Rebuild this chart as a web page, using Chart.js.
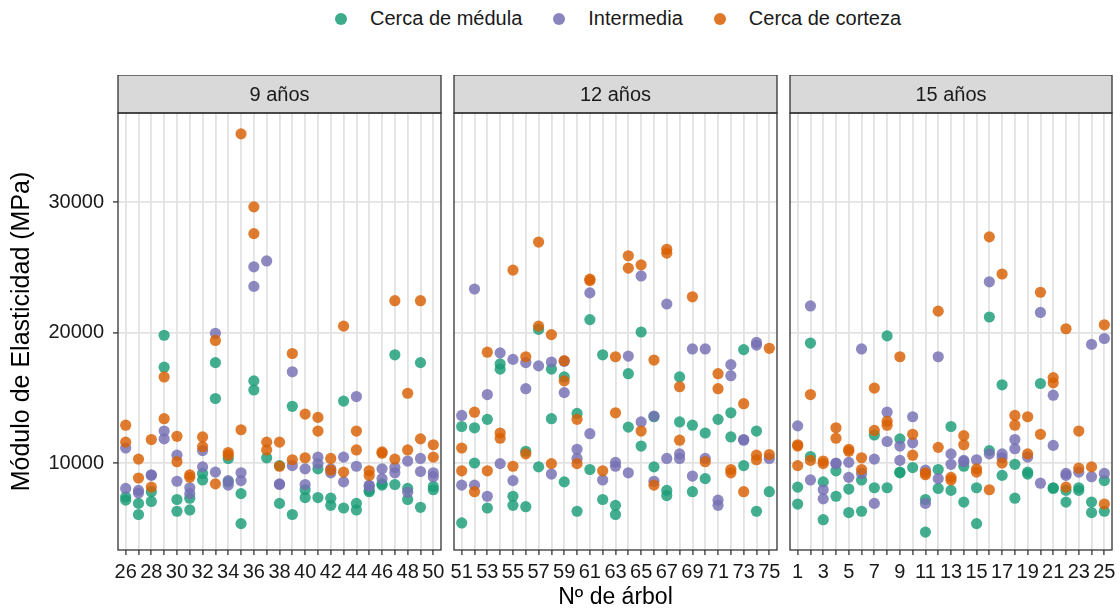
<!DOCTYPE html>
<html>
<head>
<meta charset="utf-8">
<script src="https://cdn.jsdelivr.net/npm/chart.js@4.4.1/dist/chart.umd.min.js"></script>
<style>
  body { margin: 0; background: #fff; font-family: "Liberation Sans", Arial, sans-serif; }
  #wrap { position: relative; width: 1120px; height: 612px; overflow: hidden; }
  #wrap canvas { position: absolute; top: 75px; }
  .legend { position: absolute; top: 7px; left: 335px; display: flex; align-items: center; font-size: 20px; color: #1a1a1a; }
  .legend .item { display: flex; align-items: center; margin-right: 31px; }
  .legend .dot { width: 12px; height: 12px; border-radius: 50%; display: inline-block; margin-right: 23px; }
</style>
</head>
<body>
<div id="wrap">
  <div class="legend">
    <div class="item"><span class="dot" style="background:rgba(27,158,119,0.85)"></span>Cerca de médula</div>
    <div class="item"><span class="dot" style="background:rgba(117,112,179,0.85)"></span>Intermedia</div>
    <div class="item"><span class="dot" style="background:rgba(217,95,2,0.85)"></span>Cerca de corteza</div>
  </div>
  <canvas id="c9" width="449" height="537" style="left:0px"></canvas>
  <canvas id="c12" width="339" height="537" style="left:446px"></canvas>
  <canvas id="c15" width="338" height="537" style="left:782px"></canvas>
</div>
<script>
// árboles de cada panel
const trees9 = [26,27,28,29,30,31,32,33,34,35,36,37,38,39,40,41,42,43,44,45,46,47,48,49,50];
const trees12 = [51,52,53,54,55,56,57,58,59,60,61,62,63,64,65,66,67,68,69,70,71,72,73,74,75];
const trees15 = [1,2,3,4,5,6,7,8,9,10,11,12,13,14,15,16,17,18,19,20,21,22,23,24,25];
const yTicks = [10000, 20000, 30000];

// [árbol, MOE] - 9 años
const medula9 = [[26,7400],[26,7150],[27,6900],[27,6050],[28,7800],[28,7050],[29,19800],[29,17350],[30,7200],[30,6300],
  [31,7300],[31,6400],[32,9200],[32,8700],[33,17700],[33,14950],[34,10350],[34,8550],[35,7650],[35,5350],
  [36,16300],[36,15600],[37,10400],[38,9800],[38,6900],[39,14350],[39,6050],[40,7950],[40,7350],[41,9550],[41,7350],
  [42,7300],[42,6750],[43,14750],[43,6550],[44,6900],[44,6400],[45,7900],[45,7800],[46,8400],[46,8300],
  [47,18300],[47,8350],[48,8050],[48,7200],[49,17700],[49,6600],[50,8200],[50,7950]];
const intermedia9 = [[26,11150],[26,8050],[27,7900],[27,7700],[28,9100],[28,9050],[29,12450],[29,11850],[30,10600],[30,8600],
  [31,8100],[31,7650],[32,10950],[32,9700],[33,19950],[33,9300],[34,8650],[34,8300],[35,9250],[35,8650],
  [36,25050],[36,23550],[37,25500],[38,8400],[38,8350],[39,17000],[39,9800],[40,9550],[40,8350],[41,10450],[41,9950],
  [42,9550],[42,9250],[43,10450],[43,8550],[44,15100],[44,9750],[45,8300],[45,8200],[46,9550],[46,8800],
  [47,9650],[47,9250],[48,10150],[48,7750],[49,10350],[49,9350],[50,9250],[50,8950]];
const corteza9 = [[26,12900],[26,11600],[27,10300],[27,8850],[28,11800],[28,8150],[29,16600],[29,13400],[30,12050],[30,10100],
  [31,9100],[31,8900],[32,12000],[32,11250],[33,19400],[33,8400],[34,10800],[34,10600],[35,35250],[35,12550],
  [36,29650],[36,27600],[37,11600],[37,11000],[38,11600],[38,9750],[39,18400],[39,10250],[40,13750],[40,10400],
  [41,13500],[41,12450],[42,10350],[42,9450],[43,20500],[43,9300],[44,12450],[44,11000],[45,9400],[45,9050],
  [46,10850],[46,10750],[47,22450],[47,10300],[48,15350],[48,11000],[49,22450],[49,11850],[50,11400],[50,10450]];

// 12 años
const medula12 = [[51,12800],[51,5400],[52,12700],[52,10000],[53,13350],[53,6550],[54,17600],[54,17200],[55,7450],[55,6750],
  [56,10900],[56,6650],[57,20250],[57,9700],[58,17200],[58,13400],[59,16600],[59,8550],[60,13800],[60,6300],
  [61,21000],[61,9500],[62,18300],[62,7200],[63,6750],[63,6050],[64,16850],[64,12750],[65,20050],[65,11300],
  [66,13550],[66,9700],[67,7900],[67,7500],[68,16600],[68,13150],[69,12900],[69,7800],[70,12300],[70,8800],
  [71,13350],[72,13850],[72,12000],[73,18700],[73,9800],[74,12450],[74,6300],[75,7800]];
const intermedia12 = [[51,13650],[51,8300],[52,23350],[52,8300],[53,15250],[53,7450],[54,18450],[54,9950],[55,17950],[55,8650],
  [56,17700],[56,15700],[57,17450],[58,17750],[58,9150],[59,17800],[59,15400],[60,11050],[60,10350],
  [61,23050],[61,12250],[62,8700],[63,10050],[63,9750],[64,18200],[64,9250],[65,24350],[65,13150],
  [66,13600],[66,8600],[67,22200],[67,10350],[68,10700],[68,10350],[69,18750],[69,9000],[70,18750],[70,10350],
  [71,7150],[71,6750],[72,17550],[72,16700],[73,11800],[73,11750],[74,19250],[74,19050],[75,10350]];
const corteza12 = [[51,11150],[51,9400],[52,13900],[52,7800],[53,18500],[53,9400],[54,12300],[54,11900],[55,24800],[55,9750],
  [56,18150],[56,10700],[57,26950],[57,20500],[58,19850],[58,9950],[59,17850],[59,16300],[60,13350],[60,9950],
  [61,24100],[61,24000],[62,9400],[63,18150],[63,13850],[64,25900],[64,24950],[65,25200],[65,12450],
  [66,17900],[66,8300],[67,26400],[67,26100],[68,15850],[68,11750],[69,22750],[70,10100],
  [71,16850],[71,15700],[72,9500],[72,9250],[73,14550],[73,7800],[74,10600],[74,10250],[75,18800],[75,10650]];

// 15 años
const medula15 = [[1,8150],[1,6850],[2,19200],[2,10500],[3,8550],[3,5650],[4,9400],[4,7450],[5,8000],[5,6200],
  [6,8700],[6,6300],[7,12150],[7,8100],[8,19750],[8,8100],[9,11850],[9,9300],[9,9250],[10,9650],
  [11,7200],[11,4700],[12,9500],[12,8050],[13,12800],[13,7900],[14,9750],[14,7000],[15,8100],[15,5350],
  [16,21200],[16,10950],[17,16000],[17,9050],[18,9900],[18,7300],[19,9300],[19,9150],[20,16100],
  [21,8100],[21,8050],[22,7900],[22,7000],[23,8100],[23,7900],[24,7000],[24,6200],[25,8650],[25,6300]];
const intermedia15 = [[1,12850],[2,22050],[2,8700],[3,7950],[3,7250],[4,10000],[4,9950],[5,10050],[5,8900],
  [6,18750],[6,9200],[7,10300],[7,6900],[8,13900],[8,11650],[9,11300],[9,10200],[10,13550],[10,11550],
  [11,9450],[11,6900],[12,18150],[12,8800],[13,10700],[13,9900],[14,10200],[14,10100],[15,10250],
  [16,23900],[16,10700],[17,10700],[17,10400],[18,11800],[18,11100],[19,10450],[20,21550],[20,8450],
  [21,15200],[21,11350],[22,9200],[22,9050],[23,9300],[24,19100],[24,8950],[25,19550],[25,9200]];
const corteza15 = [[1,11400],[1,11300],[1,9800],[2,15250],[2,10200],[3,10150],[3,9950],[4,12700],[4,11900],[5,11050],[5,10900],
  [6,10400],[6,9500],[7,15750],[7,12500],[8,13200],[8,12900],[9,18150],[10,12200],[10,10600],
  [11,9250],[11,9100],[12,21650],[12,11200],[13,8900],[13,8700],[14,12100],[14,11400],[15,9550],[15,9300],
  [16,27350],[16,7950],[17,24500],[17,10000],[18,13650],[18,12900],[19,13550],[19,10700],[20,23100],[20,12200],
  [21,16550],[21,16150],[22,20300],[22,8150],[23,12450],[23,9600],[24,9700],[25,20600],[25,6850]];

const FONT = '"Liberation Sans", Arial, sans-serif';

const stripPlugin = {
  id: 'strip',
  afterDraw(chart, args, opts) {
    const { ctx, chartArea: a } = chart;
    ctx.save();
    ctx.fillStyle = '#d9d9d9';
    ctx.fillRect(a.left, a.top - 38, a.right - a.left, 38);
    ctx.strokeStyle = '#333333';
    ctx.lineWidth = 1.3;
    ctx.strokeRect(a.left, a.top - 38, a.right - a.left, 38);
    ctx.strokeRect(a.left, a.top, a.right - a.left, a.bottom - a.top);
    ctx.fillStyle = '#1a1a1a';
    ctx.font = '20px ' + FONT;
    ctx.textAlign = 'center';
    ctx.textBaseline = 'middle';
    ctx.fillText(opts.text, (a.left + a.right) / 2, a.top - 18);
    ctx.restore();
  }
};

const toPts = (arr) => arr.map(([t, v]) => ({ x: t, y: v }));

function panel(id, title, trees, medula, intermedia, corteza, pos) {
  const first = pos === 'first';
  new Chart(document.getElementById(id), {
    type: 'scatter',
    data: {
      datasets: [
        { label: 'Cerca de médula', data: toPts(medula), backgroundColor: 'rgba(27,158,119,0.82)', order: 3 },
        { label: 'Intermedia', data: toPts(intermedia), backgroundColor: 'rgba(117,112,179,0.82)', order: 2 },
        { label: 'Cerca de corteza', data: toPts(corteza), backgroundColor: 'rgba(217,95,2,0.82)', order: 1 }
      ]
    },
    options: {
      responsive: false,
      animation: false,
      devicePixelRatio: 1,
      elements: { point: { radius: 5.6, borderWidth: 0, hoverRadius: 5.6 } },
      layout: { padding: { top: 38, left: first ? 0 : 8, right: 8, bottom: 0 } },
      plugins: {
        legend: { display: false },
        tooltip: { enabled: false },
        strip: { text: title }
      },
      scales: {
        x: {
          type: 'linear',
          min: trees[0] - 0.6,
          max: trees[trees.length - 1] + 0.6,
          afterBuildTicks: (s) => { s.ticks = trees.map(v => ({ value: v })); },
          afterFit: (s) => { s.height = 62; s.paddingLeft = 0; s.paddingRight = 0; },
          border: { display: false },
          grid: { color: '#e3e3e3', lineWidth: 1.8, tickColor: '#333333', tickLength: 5, tickWidth: 1.3 },
          ticks: {
            autoSkip: false, maxRotation: 0, padding: 5,
            color: '#1a1a1a', font: { family: FONT, size: 20 },
            callback: (v) => ((v - trees[0]) % 2 === 0 ? String(v) : '')
          },
          title: {
            display: pos === 'middle',
            text: 'Nº de árbol',
            color: '#000', font: { family: FONT, size: 23 },
            padding: { top: 0, bottom: 1 }
          }
        },
        y: {
          min: 3326,
          max: 36851,
          afterBuildTicks: (s) => { s.ticks = yTicks.map(v => ({ value: v })); },
          afterFit: (s) => { s.width = first ? 118 : 0; },
          border: { display: false },
          grid: { color: '#e3e3e3', lineWidth: 1.8, tickColor: '#333333', tickLength: 5, tickWidth: 1.3, drawTicks: first },
          ticks: {
            display: first, padding: 9,
            color: '#1a1a1a', font: { family: FONT, size: 20 },
            callback: (v) => String(v)
          },
          title: {
            display: first,
            text: 'Módulo de Elasticidad (MPa)',
            color: '#000', font: { family: FONT, size: 25 },
            padding: { top: 7, bottom: 0 }
          }
        }
      }
    },
    plugins: [stripPlugin]
  });
}

panel('c9', '9 años', trees9, medula9, intermedia9, corteza9, 'first');
panel('c12', '12 años', trees12, medula12, intermedia12, corteza12, 'middle');
panel('c15', '15 años', trees15, medula15, intermedia15, corteza15, 'last');
</script>
</body>
</html>
